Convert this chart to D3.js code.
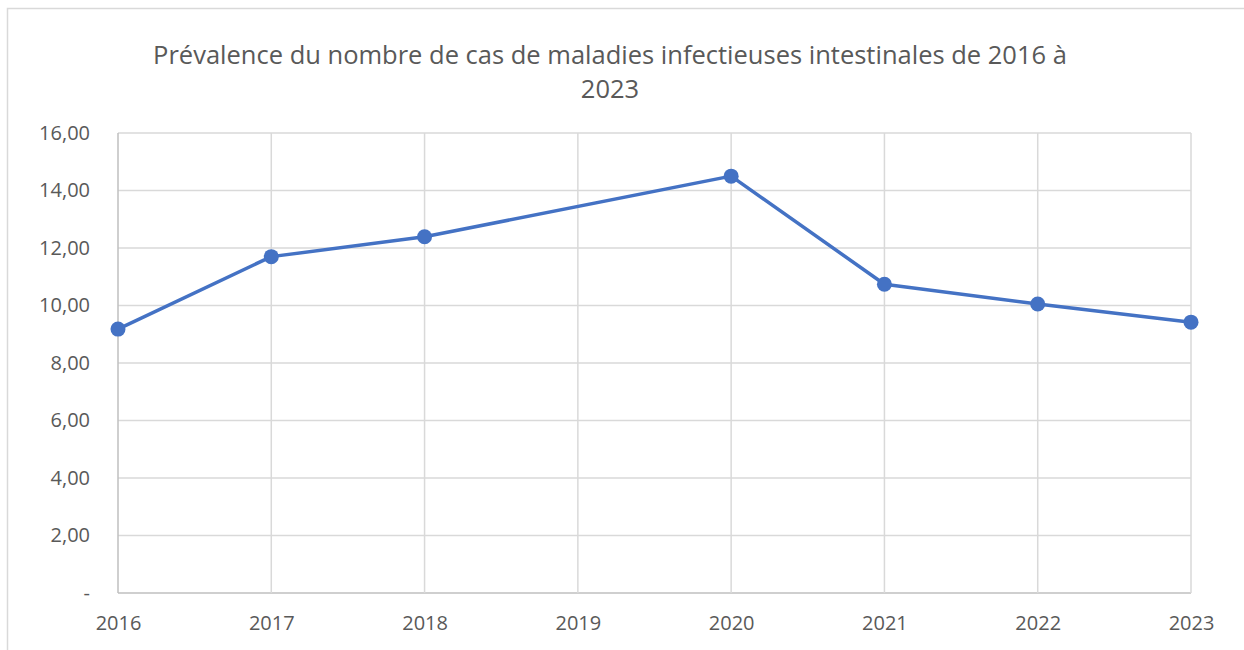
<!DOCTYPE html>
<html><head><meta charset="utf-8">
<script src="https://cdn.jsdelivr.net/npm/d3@7"></script>
<style>
html,body{margin:0;padding:0;background:#fff;}
svg{display:block;font-family:"Open Sans","Liberation Sans",sans-serif;}
</style></head>
<body><svg id="c" width="1244" height="650"></svg>
<script>
const years = ["2016","2017","2018","2019","2020","2021","2022","2023"];
const values = [9.18, 11.70, 12.39, null, 14.50, 10.74, 10.05, 9.42];
const yTicks = [0, 2, 4, 6, 8, 10, 12, 14, 16];
const titleLines = ["Prévalence du nombre de cas de maladies infectieuses intestinales de 2016 à", "2023"];

const svg = d3.select("#c");
const margin = {left:118, right:1191, top:133, bottom:593};

svg.append("rect").attr("x",7.5).attr("y",8.5).attr("width",1300).attr("height",700)
  .attr("fill","#fff").attr("stroke","#d9d9d9").attr("stroke-width",1.5);

const x = d3.scalePoint().domain(years).range([margin.left, margin.right]);
const y = d3.scaleLinear().domain([0,16]).range([margin.bottom, margin.top]);

const fmt = v => v === 0 ? "-" : d3.format(".2f")(v).replace(".", ",");

// gridlines
const g = svg.append("g");
g.selectAll("line.h").data(yTicks).join("line")
  .attr("x1",margin.left).attr("x2",margin.right)
  .attr("y1",d=>y(d)).attr("y2",d=>y(d))
  .attr("stroke",d=> d===0 ? "#bfbfbf" : "#d9d9d9").attr("stroke-width",1.5);
g.selectAll("line.v").data(years).join("line")
  .attr("x1",d=>x(d)).attr("x2",d=>x(d))
  .attr("y1",margin.top).attr("y2",margin.bottom)
  .attr("stroke",(d,i)=> i===0 ? "#bfbfbf" : "#d9d9d9").attr("stroke-width",1.5);

// y axis labels
const yAxis = d3.axisLeft(y).tickValues(yTicks).tickFormat(fmt).tickSize(0).tickPadding(28);
const ya = svg.append("g").attr("transform",`translate(${margin.left},0)`).call(yAxis);
ya.select(".domain").remove();
ya.selectAll("text").attr("fill","#595959").style("font-size","20px")
  .style("font-family","\"Open Sans\",sans-serif");

// x axis labels
const xAxis = d3.axisBottom(x).tickSize(0).tickPadding(23);
const xa = svg.append("g").attr("transform",`translate(0,${margin.bottom})`).call(xAxis);
xa.select(".domain").remove();
xa.selectAll("text").attr("fill","#595959").style("font-size","20px")
  .style("font-family","\"Open Sans\",sans-serif");

// line
const data = years.map((yr,i)=>({yr, v: values[i]})).filter(d=>d.v!==null);
svg.append("path").datum(data)
  .attr("fill","none").attr("stroke","#4472c4").attr("stroke-width",3.5)
  .attr("stroke-linejoin","round")
  .attr("d", d3.line().x(d=>x(d.yr)).y(d=>y(d.v)));
svg.selectAll("circle.m").data(data).join("circle")
  .attr("cx",d=>x(d.yr)).attr("cy",d=>y(d.v)).attr("r",7.5).attr("fill","#4472c4");

// title
svg.selectAll("text.title").data(titleLines).join("text")
  .attr("x",610).attr("y",(d,i)=>64 + i*34)
  .attr("text-anchor","middle").attr("fill","#595959")
  .style("font-size","25.5px").text(d=>d);
</script></body></html>
